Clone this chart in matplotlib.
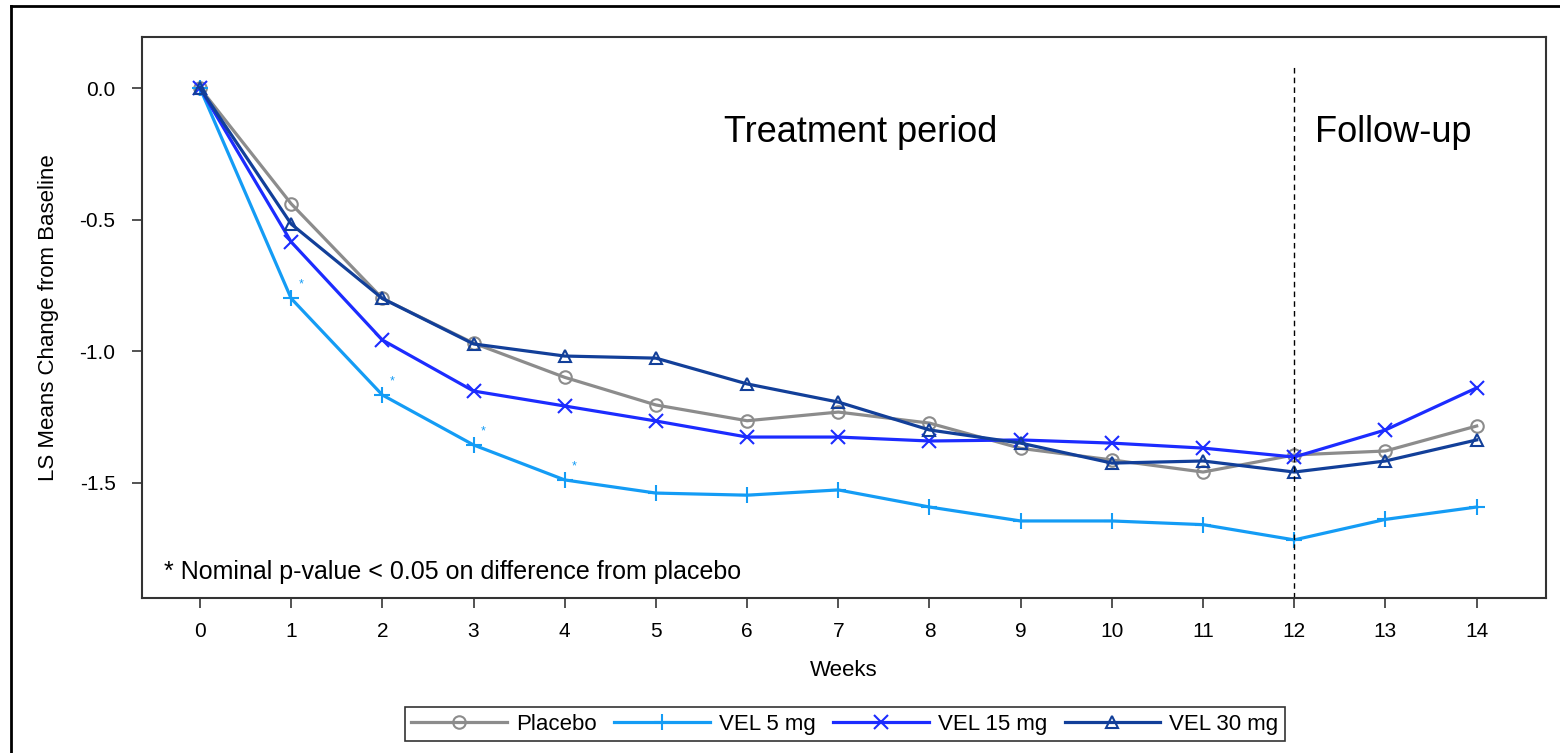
import matplotlib
matplotlib.use('Agg')
import matplotlib.pyplot as plt
from matplotlib.lines import Line2D

plt.rcParams['font.family'] = ['Liberation Sans', 'DejaVu Sans']

# data
weeks = list(range(15))
placebo = [0.0, -0.44, -0.80, -0.97, -1.10, -1.205, -1.265, -1.232, -1.274,
           -1.37, -1.414, -1.46, -1.395, -1.38, -1.285]
vel5 = [0.0, -0.80, -1.167, -1.357, -1.49, -1.54, -1.548, -1.528, -1.593,
        -1.646, -1.646, -1.66, -1.718, -1.64, -1.593]
vel15 = [0.0, -0.585, -0.958, -1.152, -1.209, -1.266, -1.327, -1.327, -1.342,
         -1.338, -1.35, -1.369, -1.403, -1.30, -1.14]
vel30 = [0.0, -0.517, -0.80, -0.973, -1.019, -1.027, -1.125, -1.194, -1.30,
         -1.35, -1.426, -1.418, -1.46, -1.418, -1.338]
signif_weeks = [1, 2, 3, 4]   # VEL 5 mg nominal p < 0.05
ytick_vals = [0.0, -0.5, -1.0, -1.5]
ytick_labels = ['0.0', '-0.5', '-1.0', '-1.5']

fig = plt.figure(figsize=(15.6, 7.53), dpi=100)
ax = fig.add_axes([0.091, 0.2058, 0.9, 0.7451])

# outer frame (top + left edges visible)
fig.add_artist(Line2D([0.007, 1.0], [0.992, 0.992], color='black', lw=2, transform=fig.transFigure))
fig.add_artist(Line2D([0.007, 0.007], [0.0, 0.992], color='black', lw=2, transform=fig.transFigure))

ax.plot(weeks, placebo, color='#8c8c8c', lw=2.3, marker='o', ms=9,
        mfc='none', mec='#8c8c8c', mew=1.5, label='Placebo')
ax.plot(weeks, vel5, color='#149cf5', lw=2.3, marker='+', ms=12,
        mew=1.5, label='VEL 5 mg')
ax.plot(weeks, vel15, color='#1c2cff', lw=2.3, marker='x', ms=10,
        mew=1.5, label='VEL 15 mg')
ax.plot(weeks, vel30, color='#123f99', lw=2.3, marker='^', ms=9,
        mfc='none', mec='#123f99', mew=1.5, label='VEL 30 mg')

for w in signif_weeks:
    ax.annotate('*', xy=(w, vel5[w]), xytext=(7, 10), textcoords='offset points',
                color='#149cf5', fontsize=9, ha='center', va='center')

ax.plot([12, 12], [-1.94, 0.087], color='black', lw=1, ls=(0, (4, 3)))

ax.text(7.25, -0.17, 'Treatment period', fontsize=26, ha='center', va='center')
ax.text(13.09, -0.17, 'Follow-up', fontsize=26, ha='center', va='center')
ax.text(-0.39, -1.84, '* Nominal p-value < 0.05 on difference from placebo',
        fontsize=18, ha='left', va='center')

ax.set_xlim(-0.636, 14.76)
ax.set_ylim(-1.939, 0.194)
ax.set_xticks(weeks)
ax.set_yticks(ytick_vals)
ax.set_yticklabels(ytick_labels)
ax.tick_params(direction='out', length=7, width=1.3, color='#444444',
               labelsize=15)
ax.tick_params(axis='x', pad=10)
ax.tick_params(axis='y', pad=12)
for s in ax.spines.values():
    s.set_color('#333333')
    s.set_linewidth(1.5)

ax.set_xlabel('Weeks', fontsize=16, labelpad=14)
ax.set_ylabel('LS Means Change from Baseline', fontsize=16, labelpad=15)

leg = fig.legend(loc='center', bbox_to_anchor=(0.5415, 0.0385), ncol=4,
                 fontsize=16, frameon=True, fancybox=False, edgecolor='black',
                 handlelength=4.3, handletextpad=0.4, columnspacing=0.8,
                 borderpad=0.3)
leg.get_frame().set_linewidth(1.2)

fig.savefig('out.png', dpi=100, facecolor='white')
